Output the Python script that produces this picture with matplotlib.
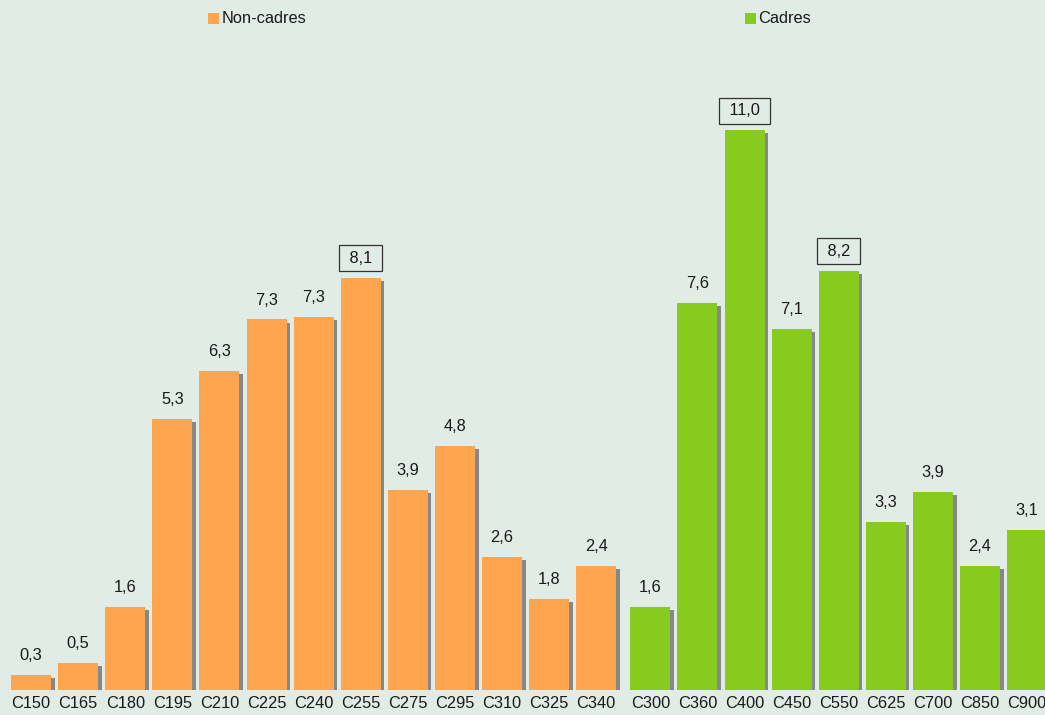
import numpy as np
import matplotlib
matplotlib.use("Agg")
import matplotlib.pyplot as plt
import matplotlib.patheffects as pe
from matplotlib.patches import Rectangle

plt.rcParams['font.family'] = ['Liberation Sans', 'DejaVu Sans']

categories = ["C150", "C165", "C180", "C195", "C210", "C225", "C240", "C255", "C275", "C295",
              "C310", "C325", "C340", "C300", "C360", "C400", "C450", "C550", "C625", "C700",
              "C850", "C900"]
non_cadres = [0.29, 0.53, 1.63, 5.32, 6.27, 7.28, 7.32, 8.10, 3.93, 4.79, 2.61, 1.79, 2.44]
cadres = [1.64, 7.60, 11.00, 7.10, 8.24, 3.30, 3.89, 2.44, 3.14]
boxed = ["C255", "C400", "C550"]

BG = "#E2ECE6"
ORANGE = "#FFA54D"
GREEN = "#88CB1F"
SHADOW = "#878787"
TXT = "#1a1a1a"
FS = 11.8

W, H = 1045, 715
fig = plt.figure(figsize=(W / 100, H / 100), dpi=100, facecolor=BG)
ax = fig.add_axes([0, 25 / H, 1, 650 / H], facecolor=BG)

slot = 47.1
bw = 40 / slot
off = 3.5 / slot
n_o = len(non_cadres)
x_o = np.arange(n_o) - off
x_g = np.arange(n_o, n_o + len(cadres)) + off

shadow = [pe.SimplePatchShadow(offset=(2.6, -2.2), shadow_rgbFace=SHADOW, alpha=1.0), pe.Normal()]
bo = ax.bar(x_o, non_cadres, width=bw, color=ORANGE, linewidth=0)
bg = ax.bar(x_g, cadres, width=bw, color=GREEN, linewidth=0)
for b in list(bo) + list(bg):
    b.set_path_effects(shadow)

def fmt(v):
    return f"{v:.1f}".replace(".", ",")

for xs, vals, start in ((x_o, non_cadres, 0), (x_g, cadres, n_o)):
    for k, (x, v) in enumerate(zip(xs, vals)):
        cat = categories[start + k]
        if cat in boxed:
            ax.annotate(" " + fmt(v) + " ", (x, v), xytext=(0, 14.0), textcoords="offset points",
                        ha="center", va="center", fontsize=FS, color=TXT,
                        bbox=dict(boxstyle="square,pad=0.34", fc="none", ec="#333333", lw=0.9))
        else:
            ax.annotate(fmt(v), (x, v), xytext=(0, 14.0), textcoords="offset points",
                        ha="center", va="center", fontsize=FS, color=TXT)

ax.set_xlim(-34.5 / slot, (W - 34.5) / slot)
ax.set_ylim(0, 650 / 50.9)
ax.set_xticks(np.concatenate([x_o, x_g]))
ax.set_xticklabels(categories, fontsize=FS, color=TXT)
ax.tick_params(axis="x", length=0, pad=4.5)
ax.set_yticks([])
for s in ax.spines.values():
    s.set_visible(False)

# legend
for (x0, label, col) in ((208, "Non-cadres", ORANGE), (745, "Cadres", GREEN)):
    fig.patches.append(Rectangle((x0 / W, 1 - 24 / H), 11 / W, 11 / H, transform=fig.transFigure,
                                 facecolor=col, edgecolor="none"))
    fig.text((x0 + 13.5) / W, 1 - 18.5 / H, label, fontsize=FS, color=TXT, ha="left", va="center")

fig.savefig("out.png", dpi=100, facecolor=BG)
